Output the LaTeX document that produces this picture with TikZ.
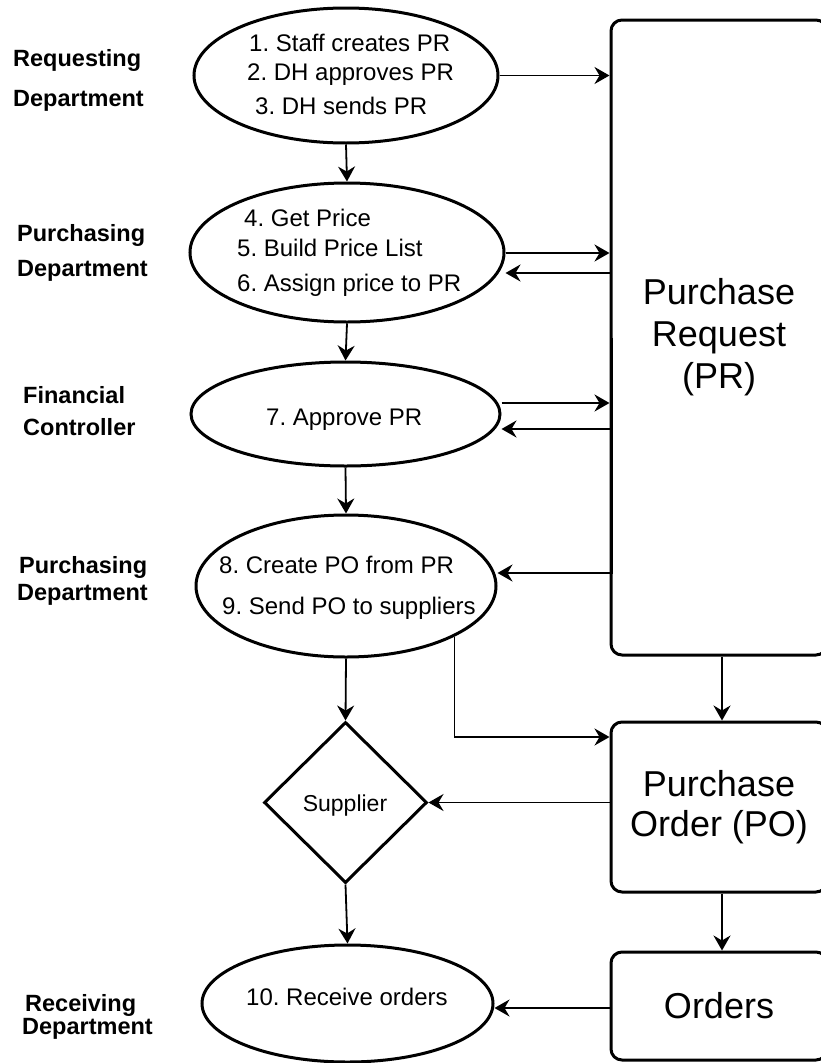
\documentclass[tikz,border=0pt]{standalone}
\usepackage{fontspec}
\setmainfont{Liberation Sans}
\usetikzlibrary{arrows.meta,shapes.geometric,calc}
\frenchspacing

\begin{document}
\begin{tikzpicture}[x=1pt,y=-1pt,
  shapeline/.style={draw=black, line width=3pt},
  proc/.style={shapeline, ellipse, inner sep=0pt},
  store/.style={shapeline, rounded corners=11pt, inner sep=0pt, align=center,
                font=\fontsize{36}{42}\selectfont},
  conn/.style={line width=1.8pt, -{Stealth[length=15pt,width=17pt,inset=5pt]}},
  lane/.style={anchor=base west, inner sep=0pt, font=\fontsize{23.5}{27}\bfseries\selectfont},
  steptext/.style={anchor=base west, inner sep=0pt, font=\fontsize{24}{28}\selectfont}]

% page area
\useasboundingbox (0,0) rectangle (821,1063);
\fill[white] (0,0) rectangle (821,1063);
\clip (0,0) rectangle (821,1063);

% department labels
\node[lane] (l1a) at (13,66)  {Requesting};
\node[lane] (l1b) at (13,106) {Department};
\node[lane] (l2a) at (17,241) {Purchasing};
\node[lane] (l2b) at (17,276) {Department};
\node[lane] (l3a) at (23,403) {Financial};
\node[lane] (l3b) at (23,435) {Controller};
\node[lane] (l4a) at (19,573) {Purchasing};
\node[lane] (l4b) at (17,600) {Department};
\node[lane] (l5a) at (25,1011) {Receiving};
\node[lane] (l5b) at (22,1034) {Department};

% process ellipses
\node[proc, minimum width=304pt, minimum height=135pt] (E1) at (346,75.5) {};
\node[proc, minimum width=314pt, minimum height=139pt] (E2) at (347,252.5) {};
\node[proc, minimum width=309pt, minimum height=104pt] (E3) at (345.5,414) {};
\node[proc, minimum width=300pt, minimum height=142pt] (E4) at (346,586) {};
\node[proc, minimum width=291pt, minimum height=117pt] (E5) at (347.5,1003.5) {};

% process steps
\node[steptext] (s1) at (249,51)  {1. Staff creates PR};
\node[steptext] (s2) at (247,80)  {2. DH approves PR};
\node[steptext] (s3) at (255,114) {3. DH sends PR};
\node[steptext] (s4) at (244,226) {4. Get Price};
\node[steptext] (s5) at (237,256) {5. Build Price List};
\node[steptext] (s6) at (237,291) {6. Assign price to PR};
\node[steptext] (s7) at (266,425) {7. Approve PR};
\node[steptext] (s8) at (219,573) {8. Create PO from PR};
\node[steptext] (s9) at (222,614) {9. Send PO to suppliers};
\node[steptext] (s10) at (246,1005) {10. Receive orders};

% supplier decision
\node[shapeline, diamond, inner sep=0pt, minimum width=163pt, minimum height=161pt] (D) at (345.5,802.5) {};
\node[anchor=base, inner sep=0pt, font=\fontsize{23}{27}\selectfont] (Dt) at (345,811) {Supplier};

% documents
\node[store, minimum width=216pt, minimum height=635pt] (PR) at (719,337.5) {Purchase\\Request\\(PR)};
\node[store, minimum width=216pt, minimum height=170pt, font=\fontsize{36}{40}\selectfont] (PO) at (719,807) {Purchase\\Order (PO)};
\node[store, minimum width=216pt, minimum height=108pt] (ORD) at (719,1006) {Orders};

% flow between process steps
\draw[conn] (E1.south) -- (E2.north);
\draw[conn] (E2.south) -- (E3.north);
\draw[conn] (E3.south) -- (E4.north);
\draw[conn] (E4.south) -- (D.north);
\draw[conn] (D.south) -- (E5.north);

% exchanges with the purchase request
\draw[conn] (E1.east) -- (E1.east -| PR.west);
\draw[conn] (E2.east |- 0,253) -- (PR.west |- 0,253);
\draw[conn] (PR.west |- 0,273) -- (E2.east |- 0,273);
\draw[conn] (E3.east |- 0,403) -- (PR.west |- 0,403);
\draw[conn] (PR.west |- 0,429) -- (E3.east |- 0,429);
\draw[conn] ($(PR.west |- 0,338)+(2.5,0)$) -- ($(PR.west |- 0,573)+(2.5,0)$) -- (E4.east |- 0,573);

% purchase order and orders
\draw[conn] (E4.-25) |- ($(PO.west)+(0,-70)$);
\draw[conn] ($(PR.south)+(3,0)$) -- ($(PO.north)+(3,0)$);
\draw[conn] (D.east -| PO.west) -- (D.east);
\draw[conn] ($(PO.south)+(3,0)$) -- ($(ORD.north)+(3,0)$);
\draw[conn] ($(ORD.west)+(0,2)$) -- (E5.east |- 0,1008);

\end{tikzpicture}
\end{document}
